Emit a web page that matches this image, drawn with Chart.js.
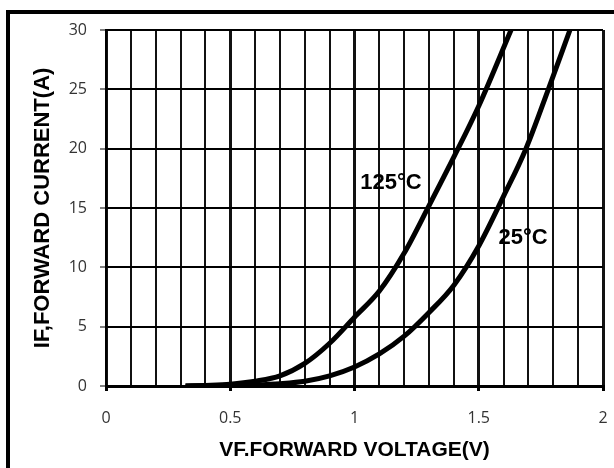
<!DOCTYPE html>
<html>
<head>
<meta charset="utf-8">
<script src="https://cdn.jsdelivr.net/npm/chart.js@4"></script>
<style>
html, body { margin: 0; padding: 0; background: #fff; }
#wrap { width: 614px; height: 468px; }
</style>
</head>
<body>
<div id="wrap"><canvas id="chart" width="614" height="468"></canvas></div>
<script>
'use strict';

// forward characteristic
const voltage125 = [0.32, 0.4, 0.5, 0.6, 0.7, 0.8, 0.9, 1.0, 1.1, 1.2, 1.3, 1.4, 1.5, 1.63];
const current125 = [0, 0.05, 0.15, 0.4, 0.85, 1.9, 3.6, 5.8, 8.0, 11.2, 15.2, 19.3, 23.6, 30];

const voltage25 = [0.32, 0.5, 0.6, 0.7, 0.8, 0.9, 1.0, 1.1, 1.2, 1.3, 1.4, 1.5, 1.6, 1.69, 1.78, 1.867];
const current25 = [0, 0.05, 0.1, 0.2, 0.4, 0.85, 1.6, 2.7, 4.2, 6.2, 8.5, 11.8, 16.0, 20, 25, 30];

const xTickLabels = ['0', '0.5', '1', '1.5', '2'];

const curveLabels = ['125°C', '25°C'];
const labelVoltage = [1.147, 1.678];
const labelCurrent = [17.1, 12.5];

function toPoints(xs, ys) {
    return xs.map((x, i) => ({ x: x, y: ys[i] }));
}

function isMajor(v) {
    return Math.abs(v * 2 - Math.round(v * 2)) < 1e-6;
}

const sheetPlugin = {
    id: 'sheet',
    beforeDraw(chart) {
        const ctx = chart.ctx;
        ctx.save();
        ctx.fillStyle = '#fff';
        ctx.fillRect(0, 0, chart.width, chart.height);
        ctx.strokeStyle = '#000';
        ctx.lineWidth = 4;
        ctx.strokeRect(8, 12, 700, 600);
        ctx.restore();
    },
    afterDatasetsDraw(chart) {
        const ctx = chart.ctx;
        const xs = chart.scales.x;
        const ys = chart.scales.y;
        ctx.save();
        ctx.fillStyle = '#000';
        ctx.font = 'bold 22px "Liberation Sans", Arial, sans-serif';
        ctx.textAlign = 'center';
        ctx.textBaseline = 'middle';
        curveLabels.forEach((t, i) => {
            ctx.fillText(t, xs.getPixelForValue(labelVoltage[i]), ys.getPixelForValue(labelCurrent[i]));
        });
        ctx.restore();
    }
};

new Chart(document.getElementById('chart').getContext('2d'), {
    type: 'line',
    data: {
        datasets: [{
            label: '125°C',
            data: toPoints(voltage125, current125),
            borderColor: '#000',
            borderWidth: 5,
            pointRadius: 0,
            fill: false,
            cubicInterpolationMode: 'monotone'
        }, {
            label: '25°C',
            data: toPoints(voltage25, current25),
            borderColor: '#000',
            borderWidth: 5,
            pointRadius: 0,
            fill: false,
            cubicInterpolationMode: 'monotone'
        }]
    },
    options: {
        responsive: false,
        animation: false,
        layout: { padding: { left: 0, right: 11, top: 30, bottom: 0 } },
        plugins: {
            legend: { display: false },
            tooltip: { enabled: false }
        },
        scales: {
            x: {
                type: 'linear',
                min: 0,
                max: 2,
                afterFit: s => { s.height = 82; s.paddingLeft = 0; s.paddingRight = 0; },
                border: { color: '#000', width: 3 },
                grid: {
                    color: '#111',
                    lineWidth: c => isMajor(c.tick.value) ? 3 : 2,
                    tickLength: 5,
                    tickColor: c => isMajor(c.tick.value) ? '#000' : 'rgba(0,0,0,0)'
                },
                ticks: {
                    stepSize: 0.1,
                    autoSkip: false,
                    maxRotation: 0,
                    padding: 18,
                    color: '#333',
                    font: { family: '"Open Sans", sans-serif', size: 16 },
                    callback: v => isMajor(v) ? xTickLabels[Math.round(v * 2)] : ''
                },
                title: {
                    display: true,
                    text: 'VF.FORWARD VOLTAGE(V)',
                    color: '#000',
                    font: { family: '"Liberation Sans", Arial, sans-serif', size: 21, weight: 'bold' },
                    padding: { top: 0, bottom: 5 }
                }
            },
            y: {
                min: 0,
                max: 30,
                afterFit: s => { s.width = 106; },
                border: { color: '#000', width: 2 },
                grid: {
                    color: '#000',
                    lineWidth: 2,
                    tickLength: 6,
                    tickColor: '#555',
                    tickWidth: 1.5
                },
                ticks: {
                    stepSize: 5,
                    padding: 13,
                    color: '#333',
                    font: { family: '"Open Sans", sans-serif', size: 16 }
                },
                title: {
                    display: true,
                    text: 'IF,FORWARD CURRENT(A)',
                    color: '#000',
                    font: { family: '"Liberation Sans", Arial, sans-serif', size: 22, weight: 'bold' },
                    padding: { top: 30, bottom: 0 }
                }
            }
        }
    },
    plugins: [sheetPlugin]
});
</script>
</body>
</html>
